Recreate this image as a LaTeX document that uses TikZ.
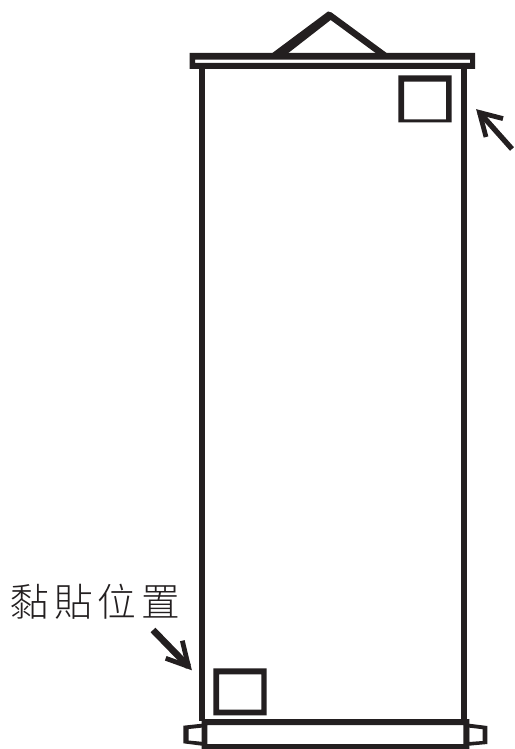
\documentclass[tikz,border=0pt]{standalone}
\usepackage{fontspec}
\newfontfamily\cjk[UprightFont=* Light]{Noto Sans CJK TC}
\definecolor{ink}{HTML}{231F20}
\tikzset{
  ink fill/.style={fill=ink,draw=none},
  pointer/.style={draw=ink,line width=3.6pt,line cap=butt,line join=miter},
  label text/.style={text=ink,inner sep=0pt,anchor=west,font=\cjk\fontsize{29pt}{29pt}\selectfont}
}
\begin{document}
\begin{tikzpicture}[x=0.75pt,y=-0.75pt]
\useasboundingbox (0,0) rectangle (514,749);
% side rails
\fill[ink] (198.7,66) rectangle (204.7,721);
\fill[ink] (461,66) rectangle (467,721);
% hanger
\fill[ink] (271,54) -- (328,11.5) -- (331.5,12.5) -- (388,54) -- (377,54) -- (330.7,20) -- (287,54) -- cycle;
% top bar
\path[ink fill,even odd rule] (189.5,53) rectangle (475,69) (195,59.6) rectangle (470,63);
% squares
\path[ink fill,even odd rule] (398.3,75.3) rectangle (451.7,122.3) (404,81.7) rectangle (446,119.3);
\path[ink fill,even odd rule] (213.3,668.3) rectangle (266.7,715.3) (219,674.3) rectangle (261.3,709.7);
% bottom bar
\path[ink fill,even odd rule] (201.7,719) rectangle (469.3,749) (207.3,725) rectangle (463.3,744);
% end caps
\path[ink fill,even odd rule] (202,723.7) -- (183.3,725.7) -- (183.3,743.3) -- (202,745.7) -- cycle
  (202,727.6) -- (188.7,729) -- (188.7,740.5) -- (202,741.8) -- cycle;
\path[ink fill,even odd rule] (469,723.7) -- (487.4,726) -- (487.4,744) -- (469,745.7) -- cycle
  (469,727.6) -- (482.5,729.2) -- (482.5,741) -- (469,742) -- cycle;
% pointers
\coordinate (tipA) at (479.5,112.5);
\coordinate (tailA) at (512,149);
\coordinate (barbA1) at (503,118.6);
\coordinate (barbA2) at (486,137);
\draw[pointer,line width=4pt] (tailA) -- (tipA);
\draw[pointer] (barbA1) -- (tipA) -- (barbA2);
\coordinate (tipB) at (188.5,666.5);
\coordinate (tailB) at (153,630);
\coordinate (barbB1) at (182.3,640.7);
\coordinate (barbB2) at (165.7,658.3);
\draw[pointer,line width=5pt] (tailB) -- (tipB);
\draw[pointer] (barbB1) -- (tipB) -- (barbB2);
% label
\node[label text] (lbl) at (10,601.5) {黏\hspace{3.9pt}貼\hspace{3.9pt}位\hspace{3.9pt}置};
\end{tikzpicture}
\end{document}
